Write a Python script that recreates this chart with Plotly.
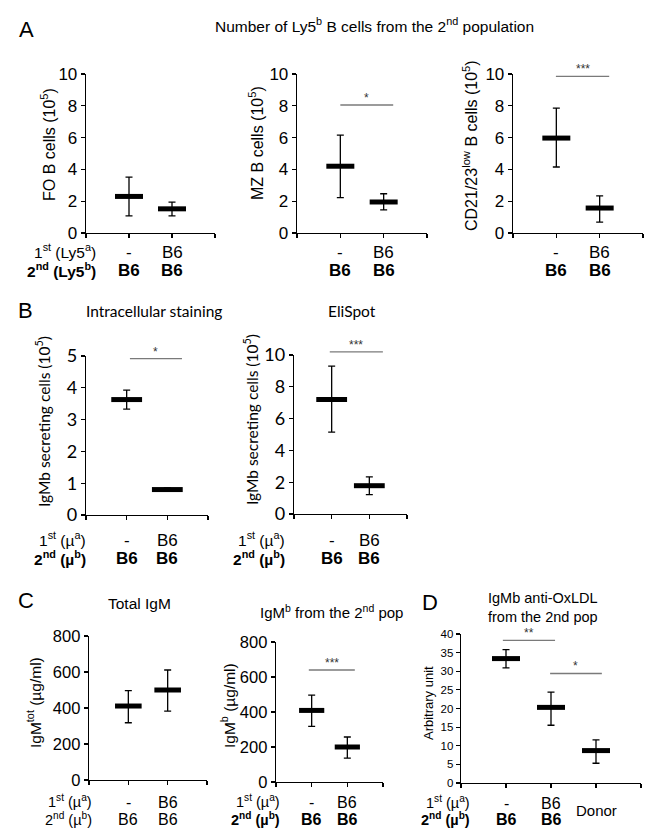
import plotly.graph_objects as go

W, H = 664, 832

# ---------------- data ----------------
cat_pos2 = [1, 2]
cat_pos3 = [1, 2, 3]

# Panel A (Ly5)
A_first = ["-", "B6"]
A_second = ["B6", "B6"]
fo_mean = [2.3, 1.52]
fo_lo = [1.08, 1.08]
fo_hi = [3.52, 1.94]
mz_mean = [4.2, 1.95]
mz_lo = [2.22, 1.46]
mz_hi = [6.16, 2.47]
cd_mean = [5.97, 1.57]
cd_lo = [4.15, 0.69]
cd_hi = [7.86, 2.33]

# Panel B
B_first = ["-", "B6"]
B_second = ["B6", "B6"]
ic_mean = [3.63, 0.8]
ic_lo = [3.33, 0.76]
ic_hi = [3.93, 0.85]
es_mean = [7.2, 1.78]
es_lo = [5.15, 1.22]
es_hi = [9.3, 2.34]

# Panel C
C_first = ["-", "B6"]
C_second = ["B6", "B6"]
tot_mean = [411, 500]
tot_lo = [318, 383]
tot_hi = [496, 611]
igmb_mean = [409, 200]
igmb_lo = [318, 136]
igmb_hi = [496, 257]

# Panel D
D_first = ["-", "B6"]
D_second = ["B6", "B6"]
D_third = "Donor"
ox_mean = [33.4, 20.3, 8.7]
ox_lo = [30.9, 15.5, 5.3]
ox_hi = [35.8, 24.4, 11.6]

# significance bars: (x start, x end, y, label)
sig_mz = [(1.0, 2.22, 8.05, "*")]
sig_cd = [(0.99, 2.22, 9.85, "***")]
sig_ic = [(1.08, 2.36, 4.92, "*")]
sig_es = [(0.95, 2.36, 10.2, "***")]
sig_igmb = [(0.92, 2.21, 640, "***")]
sig_ox = [(0.93, 2.09, 38.3, "**"), (1.98, 3.13, 29.4, "*")]

ARIAL = "Liberation Sans, Arial, sans-serif"
CALI = "Lato, Carlito, Calibri, sans-serif"


def px_x(x):
    return x / W


def px_y(y):
    return 1 - y / H


fig = go.Figure()
annotations = []
shapes = []

panels = [
    dict(k="", x0=86, x1=215, yt=74, yb=233, rng=[0, 10], dt=2, xr=[0, 3], pos=cat_pos2,
         m=fo_mean, lo=fo_lo, hi=fo_hi, fam=ARIAL, fs=17, bw=20, sig=[]),
    dict(k="2", x0=297, x1=427, yt=74, yb=233, rng=[0, 10], dt=2, xr=[0, 3], pos=cat_pos2,
         m=mz_mean, lo=mz_lo, hi=mz_hi, fam=ARIAL, fs=17, bw=20, sig=sig_mz),
    dict(k="3", x0=513, x1=643, yt=74, yb=233, rng=[0, 10], dt=2, xr=[0, 3], pos=cat_pos2,
         m=cd_mean, lo=cd_lo, hi=cd_hi, fam=ARIAL, fs=17, bw=20, sig=sig_cd),
    dict(k="4", x0=86, x1=208, yt=356, yb=515, rng=[0, 5], dt=1, xr=[0, 3], pos=cat_pos2,
         m=ic_mean, lo=ic_lo, hi=ic_hi, fam=CALI, fs=18, bw=22, sig=sig_ic),
    dict(k="5", x0=294, x1=407, yt=355, yb=514, rng=[0, 10], dt=2, xr=[0, 3], pos=cat_pos2,
         m=es_mean, lo=es_lo, hi=es_hi, fam=CALI, fs=18, bw=22, sig=sig_es),
    dict(k="6", x0=89, x1=207, yt=636, yb=780, rng=[0, 800], dt=200, xr=[0, 3], pos=cat_pos2,
         m=tot_mean, lo=tot_lo, hi=tot_hi, fam=ARIAL, fs=16.5, bw=19, sig=[]),
    dict(k="7", x0=276, x1=383, yt=642, yb=782, rng=[0, 800], dt=200, xr=[0, 3], pos=cat_pos2,
         m=igmb_mean, lo=igmb_lo, hi=igmb_hi, fam=ARIAL, fs=16.5, bw=18, sig=sig_igmb),
    dict(k="8", x0=461, x1=641, yt=634, yb=783, rng=[0, 40], dt=5, xr=[0, 4], pos=cat_pos3,
         m=ox_mean, lo=ox_lo, hi=ox_hi, fam=ARIAL, fs=11.5, bw=20, sig=sig_ox),
]

layout_axes = {}
for p in panels:
    k = p["k"]
    xa = "x" + k
    ya = "y" + k
    fig.add_trace(go.Scatter(
        x=p["pos"], y=p["m"], mode="markers", xaxis=xa, yaxis=ya, showlegend=False,
        marker=dict(symbol="line-ew", size=p["bw"], color="black",
                    line=dict(width=5, color="black")),
        error_y=dict(type="data", symmetric=False,
                     array=[h - m for h, m in zip(p["hi"], p["m"])],
                     arrayminus=[m - l for m, l in zip(p["m"], p["lo"])],
                     color="black", thickness=1.3, width=3.5),
        hoverinfo="skip",
    ))
    layout_axes["xaxis" + k] = dict(
        domain=[px_x(p["x0"]), px_x(p["x1"])], anchor=ya, range=p["xr"],
        tickvals=list(range(p["xr"][0], p["xr"][1] + 1)), ticks="outside", ticklen=4,
        tickcolor="black", tickwidth=1.2, showticklabels=False, showline=True,
        linecolor="black", linewidth=1.3, showgrid=False, zeroline=False, fixedrange=True,
        automargin=False)
    layout_axes["yaxis" + k] = dict(
        domain=[px_y(p["yb"]), px_y(p["yt"])], anchor=xa, range=p["rng"], dtick=p["dt"],
        tick0=0, ticks="outside", ticklen=4, tickcolor="black", tickwidth=1.2,
        showline=True, linecolor="black", linewidth=1.3, showgrid=False, zeroline=False,
        tickfont=dict(family=p["fam"], size=p["fs"], color="black"), fixedrange=True,
        automargin=False)
    for (sx0, sx1, sy, lab) in p["sig"]:
        ymax = p["rng"][1]
        shapes.append(dict(type="line", xref=xa, yref=ya + " domain", x0=sx0, x1=sx1,
                           y0=sy / ymax, y1=sy / ymax, line=dict(color="#7a7a7a", width=1.3)))
        annotations.append(dict(xref=xa, yref=ya + " domain", x=(sx0 + sx1) / 2, y=sy / ymax,
                                text=lab, showarrow=False, xanchor="center", yanchor="bottom",
                                yshift=-2, font=dict(family=ARIAL, size=12, color="#333333")))


def ann(x, y, text, size=16, fam=ARIAL, xanchor="center", yanchor="middle", angle=0,
        xref="paper", color="black"):
    annotations.append(dict(x=x, y=y, xref=xref, yref="paper", text=text, showarrow=False,
                            xanchor=xanchor, yanchor=yanchor, textangle=angle,
                            font=dict(family=fam, size=size, color=color)))


# panel letters
ann(px_x(26), px_y(30), "A", size=22)
ann(px_x(25), px_y(311), "B", size=22)
ann(px_x(26), px_y(600), "C", size=22)
ann(px_x(430), px_y(602), "D", size=22)

# titles
ann(px_x(374), px_y(25), "Number of Ly5<sup>b</sup> B cells from the 2<sup>nd</sup> population", size=15.5)
ann(px_x(154), px_y(311), "Intracellular staining", size=15.5, fam=CALI)
ann(px_x(352), px_y(311), "EliSpot", size=15.5, fam=CALI)
ann(px_x(139), px_y(603), "Total IgM", size=15.5)
ann(px_x(331), px_y(611), "IgM<sup>b</sup> from the 2<sup>nd</sup> pop", size=15)
ann(px_x(543), px_y(607), "IgMb anti-OxLDL<br>from the 2nd pop", size=14.5)

# y labels
ann(px_x(48), px_y(145), "FO B cells (10<sup>5</sup>)", size=16, angle=-90)
ann(px_x(256), px_y(143), "MZ B cells (10<sup>5</sup>)", size=16, angle=-90)
ann(px_x(470), px_y(146), "CD21/23<sup>low</sup> B cells (10<sup>5</sup>)", size=16, angle=-90)
ann(px_x(42), px_y(422), "IgMb secreting cells (10<sup>5</sup>)", size=15.5, fam=CALI, angle=-90)
ann(px_x(250), px_y(420), "IgMb secreting cells (10<sup>5</sup>)", size=15.5, fam=CALI, angle=-90)
ann(px_x(34), px_y(703), "IgM<sup>tot</sup> (µg/ml)", size=15.5, angle=-90)
ann(px_x(228), px_y(706), "IgM<sup>b</sup> (µg/ml)", size=15.5, angle=-90)
ann(px_x(428), px_y(703), "Arbitrary unit", size=13, angle=-90)

# row labels (group descriptions under the axes)
ann(px_x(98), px_y(251), "1<sup>st</sup> (Ly5<sup>a</sup>)", size=15.5, xanchor="right")
ann(px_x(98), px_y(270), "<b>2<sup>nd</sup> (Ly5<sup>b</sup>)</b>", size=15.5, xanchor="right")
ann(px_x(88), px_y(539), "1<sup>st</sup> (µ<sup>a</sup>)", size=15.5, xanchor="right")
ann(px_x(88), px_y(558), "<b>2<sup>nd</sup> (µ<sup>b</sup>)</b>", size=15.5, xanchor="right")
ann(px_x(287), px_y(539), "1<sup>st</sup> (µ<sup>a</sup>)", size=15.5, xanchor="right")
ann(px_x(287), px_y(558), "<b>2<sup>nd</sup> (µ<sup>b</sup>)</b>", size=15.5, xanchor="right")
ann(px_x(94), px_y(801), "1<sup>st</sup> (µ<sup>a</sup>)", size=14.5, xanchor="right")
ann(px_x(94), px_y(819), "2<sup>nd</sup> (µ<sup>b</sup>)", size=14.5, xanchor="right")
ann(px_x(282), px_y(801), "1<sup>st</sup> (µ<sup>a</sup>)", size=14.5, xanchor="right")
ann(px_x(282), px_y(819), "<b>2<sup>nd</sup> (µ<sup>b</sup>)</b>", size=14.5, xanchor="right")
ann(px_x(472), px_y(802), "1<sup>st</sup> (µ<sup>a</sup>)", size=14.5, xanchor="right")
ann(px_x(472), px_y(819), "<b>2<sup>nd</sup> (µ<sup>b</sup>)</b>", size=14.5, xanchor="right")

row_specs = [
    ("", A_first, A_second, 252, 270, 17, True),
    ("2", A_first, A_second, 252, 270, 17, True),
    ("3", A_first, A_second, 252, 270, 17, True),
    ("4", B_first, B_second, 540, 558, 17, True),
    ("5", B_first, B_second, 540, 558, 17, True),
    ("6", C_first, C_second, 802, 819, 16, False),
    ("7", C_first, C_second, 802, 819, 16, True),
    ("8", D_first, D_second, 803, 819, 16, True),
]
for k, first, second, y1, y2, fs, bold in row_specs:
    for i, (f, s) in enumerate(zip(first, second)):
        annotations.append(dict(x=cat_pos2[i], y=px_y(y1), xref="x" + k, yref="paper", text=f,
                                showarrow=False, xanchor="center", yanchor="middle",
                                font=dict(family=ARIAL, size=fs, color="black")))
        st = "<b>%s</b>" % s if bold else s
        annotations.append(dict(x=cat_pos2[i], y=px_y(y2), xref="x" + k, yref="paper", text=st,
                                showarrow=False, xanchor="center", yanchor="middle",
                                font=dict(family=ARIAL, size=fs, color="black")))
annotations.append(dict(x=cat_pos3[2], y=px_y(810), xref="x8", yref="paper", text=D_third,
                        showarrow=False, xanchor="center", yanchor="middle",
                        font=dict(family=ARIAL, size=15, color="black")))

fig.update_layout(
    width=W, height=H, autosize=False,
    margin=dict(l=0, r=0, t=0, b=0, pad=0, autoexpand=False),
    paper_bgcolor="white", plot_bgcolor="white",
    annotations=annotations, shapes=shapes, showlegend=False,
    **layout_axes,
)

POST = (
    "document.documentElement.style.margin='0';"
    "document.documentElement.style.padding='0';"
    "document.documentElement.style.overflow='hidden';"
    "document.body.style.margin='0';"
    "document.body.style.padding='0';"
    "document.body.style.overflow='hidden';"
    "var gd=document.getElementById('{plot_id}');"
    "gd.style.position='fixed';gd.style.left='0px';gd.style.top='0px';"
)

fig.write_html("out.html", config={"displayModeBar": False, "staticPlot": True},
               post_script=POST)
